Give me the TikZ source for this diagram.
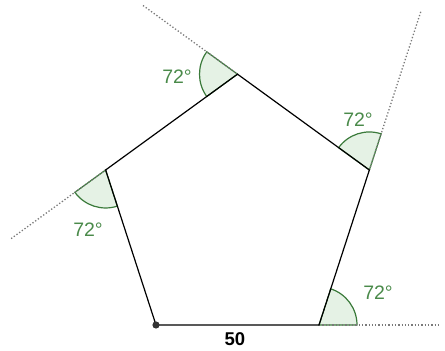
\documentclass[tikz,border=0pt]{standalone}
\usepackage{fontspec}
\setmainfont{Liberation Sans}
\usetikzlibrary{calc}
\definecolor{anglefill}{HTML}{E5F2E5}
\definecolor{anglegreen}{HTML}{3A7A3A}
\definecolor{labelgreen}{HTML}{4A8A4A}
\definecolor{extgray}{HTML}{7A7A7A}
\definecolor{dotgray}{HTML}{333333}

\begin{document}
\begin{tikzpicture}[x=1pt, y=1pt,
  side/.style={black, line width=1.2pt},
  extension/.style={extgray, line width=1.3pt, dash pattern=on 1.3pt off 2pt},
  sector/.style={fill=anglefill, draw=anglegreen, line width=1.2pt},
  anglelabel/.style={text=labelgreen, font=\fontsize{19.5}{22}\selectfont},
  lengthlabel/.style={text=black, font=\fontsize{18.5}{21}\selectfont\bfseries}]

% Frame of the picture
\useasboundingbox (0,0) rectangle (445,351);

% Corners of the pentagon, side 163 px
\coordinate (A) at (156,26);
\path (A) ++(0:163) coordinate (B) ++(72:163) coordinate (C)
  ++(144:163) coordinate (D) ++(216:163) coordinate (E);

% Ends of the extended sides
\coordinate (Bx) at ($(B)+(0:121)$);
\coordinate (Cx) at ($(C)+(72:168)$);
\coordinate (Dx) at ($(D)+(144:118)$);
\coordinate (Ex) at ($(E)+(216:118)$);

% Exterior angles
\draw[sector] (B) -- ++(0:38) arc[start angle=0, end angle=72, radius=38] -- cycle;
\draw[sector] (C) -- ++(72:38) arc[start angle=72, end angle=144, radius=38] -- cycle;
\draw[sector] (D) -- ++(144:38) arc[start angle=144, end angle=216, radius=38] -- cycle;
\draw[sector] (E) -- ++(216:38) arc[start angle=216, end angle=288, radius=38] -- cycle;

% Extended sides (dotted)
\draw[extension] (B) -- (Bx);
\draw[extension] (C) -- (Cx);
\draw[extension] (D) -- (Dx);
\draw[extension] (E) -- (Ex);

% Sides
\draw[side] (A) -- (B) -- (C) -- (D) -- (E) -- cycle;

% Starting point
\fill[dotgray] (A) circle (3.6);

% Labels
\node[anglelabel] (angB) at (378,58) {72°};
\node[anglelabel] (angC) at (358,231) {72°};
\node[anglelabel] (angD) at (177,274) {72°};
\node[anglelabel] (angE) at (88,121) {72°};
\node[lengthlabel] (lenAB) at (235,12) {50};

\end{tikzpicture}
\end{document}
